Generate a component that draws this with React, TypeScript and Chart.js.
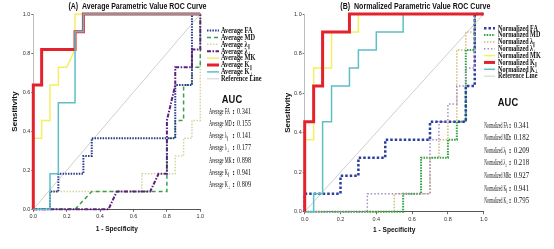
import React, { useEffect, useRef } from 'react';
import { Chart, registerables } from 'chart.js';

Chart.register(...registerables);

// ---------------- Data ----------------
const TICKS = [0, 0.2, 0.4, 0.6, 0.8, 1.0];
const REF_X = [0, 1];
const REF_Y = [0, 1];

// Panel A: Average parametric values (ROC vertices: 1 - specificity, sensitivity)
const A_FA_X = [0, 0.1, 0.1, 0.15, 0.15, 0.3, 0.3, 0.35, 0.35, 0.85, 0.85, 0.95, 0.95, 1];
const A_FA_Y = [0, 0, 0.091, 0.091, 0.182, 0.182, 0.273, 0.273, 0.364, 0.364, 0.636, 0.636, 1, 1];
const A_MD_X = [0, 0.25, 0.35, 0.8, 0.8, 0.85, 0.85, 0.9, 0.9, 0.95, 0.95, 1, 1];
const A_MD_Y = [0, 0, 0.091, 0.091, 0.364, 0.364, 0.455, 0.455, 0.636, 0.636, 0.727, 0.727, 1];
const A_LP_X = [0, 0.1, 0.1, 0.65, 0.65, 0.85, 0.85, 0.9, 0.9, 0.95, 0.95, 1, 1];
const A_LP_Y = [0, 0, 0.091, 0.091, 0.182, 0.182, 0.273, 0.273, 0.364, 0.364, 0.455, 0.455, 1];
const A_LT_X = [0, 0.45, 0.5, 0.7, 0.75, 0.8, 0.8, 0.85, 0.85, 0.95, 0.95, 1, 1];
const A_LT_Y = [0, 0, 0.091, 0.091, 0.182, 0.182, 0.455, 0.636, 0.727, 0.727, 0.818, 0.818, 1];
const A_MK_X = [0, 0, 0.05, 0.05, 0.1, 0.1, 0.15, 0.15, 0.2, 0.25, 0.25, 1];
const A_MK_Y = [0, 0.364, 0.364, 0.455, 0.455, 0.636, 0.636, 0.727, 0.727, 0.818, 1, 1];
const A_KP_X = [0, 0, 0.05, 0.05, 0.25, 0.25, 0.3, 0.3, 1];
const A_KP_Y = [0, 0.636, 0.636, 0.818, 0.818, 0.909, 0.909, 1, 1];
const A_KT_X = [0, 0.1, 0.1, 0.15, 0.15, 0.25, 0.25, 0.3, 0.3, 1];
const A_KT_Y = [0, 0, 0.182, 0.182, 0.545, 0.545, 0.909, 0.909, 1, 1];
const A_LABELS = ['Average FA', 'Average MD', 'Average λ∥', 'Average λ⊥', 'Average MK', 'Average K∥', 'Average K⊥'];
const A_AUC = [0.341, 0.155, 0.141, 0.177, 0.898, 0.941, 0.809];

// Panel B: Normalized parametric values
const B_FA_X = [0, 0, 0.2, 0.2, 0.3, 0.3, 0.45, 0.45, 0.7, 0.7, 0.9, 0.9, 0.95, 0.95, 1];
const B_FA_Y = [0, 0.091, 0.091, 0.182, 0.182, 0.273, 0.273, 0.364, 0.364, 0.455, 0.455, 0.636, 0.636, 1, 1];
const B_MD_X = [0, 0.55, 0.55, 0.65, 0.65, 0.8, 0.8, 0.85, 0.85, 0.9, 0.9, 0.95, 0.95, 1];
const B_MD_Y = [0, 0, 0.091, 0.091, 0.273, 0.273, 0.364, 0.364, 0.455, 0.455, 0.818, 0.818, 1, 1];
const B_LP_X = [0, 0.5, 0.5, 0.7, 0.7, 0.75, 0.75, 0.8, 0.8, 0.85, 0.85, 0.9, 0.9, 0.95, 0.95, 1];
const B_LP_Y = [0, 0, 0.091, 0.091, 0.273, 0.273, 0.364, 0.364, 0.455, 0.455, 0.818, 0.818, 0.909, 0.909, 1, 1];
const B_LT_X = [0, 0.35, 0.35, 0.7, 0.7, 0.75, 0.75, 0.8, 0.8, 0.85, 0.85, 0.9, 0.9, 0.95, 0.95, 1];
const B_LT_Y = [0, 0, 0.091, 0.091, 0.364, 0.364, 0.455, 0.455, 0.545, 0.545, 0.636, 0.636, 0.727, 0.727, 1, 1];
const B_MK_X = [0, 0, 0.05, 0.05, 0.15, 0.15, 0.3, 0.3, 1];
const B_MK_Y = [0, 0.364, 0.364, 0.727, 0.727, 0.909, 0.909, 1, 1];
const B_KP_X = [0, 0, 0.05, 0.05, 0.1, 0.1, 0.25, 0.25, 1];
const B_KP_Y = [0, 0.455, 0.455, 0.636, 0.636, 0.909, 0.909, 1, 1];
const B_KT_X = [0, 0.05, 0.05, 0.1, 0.1, 0.15, 0.15, 0.25, 0.25, 0.3, 0.3, 0.4, 0.4, 0.55, 0.55, 1];
const B_KT_Y = [0, 0, 0.091, 0.091, 0.455, 0.455, 0.636, 0.636, 0.727, 0.727, 0.818, 0.818, 0.909, 0.909, 1, 1];
const B_LABELS = ['Normalized FA', 'Normalized MD', 'Normalized λ∥', 'Normalized λ⊥', 'Normalized MK', 'Normalized K∥', 'Normalized K⊥'];
const B_AUC = [0.341, 0.182, 0.209, 0.218, 0.927, 0.941, 0.795];

const REF_LABEL = 'Reference Line';

// ---------------- Styles ----------------
type Style = { color: string; width: number; dash: number[]; order: number };
const A_STYLES: Style[] = [
  { color: '#2d3a8c', width: 2, dash: [1.5, 1.2], order: 5 },
  { color: '#3c9e4c', width: 1.5, dash: [4, 3], order: 6 },
  { color: '#d4d4a0', width: 1.5, dash: [1.5, 1.5], order: 7 },
  { color: '#5b1f7e', width: 2, dash: [4, 1.5, 1.5, 1.5], order: 4 },
  { color: '#f4ef62', width: 1.5, dash: [], order: 3 },
  { color: '#e3222b', width: 3, dash: [], order: 2 },
  { color: '#5ec0c6', width: 1.5, dash: [], order: 1 },
];
const B_STYLES: Style[] = [
  { color: '#2b3f9e', width: 2.5, dash: [2.5, 2], order: 5 },
  { color: '#2fa33f', width: 2, dash: [1.5, 1.2], order: 6 },
  { color: '#d2ba7c', width: 1.5, dash: [1.5, 1.5], order: 7 },
  { color: '#a58ac6', width: 1.5, dash: [1.5, 2], order: 4 },
  { color: '#f4ef62', width: 1.5, dash: [], order: 3 },
  { color: '#e3222b', width: 3, dash: [], order: 1 },
  { color: '#5ec0c6', width: 1.5, dash: [], order: 2 },
];
const REF_STYLE: Style = { color: '#cfcfcf', width: 1, dash: [], order: 9 };

const W = 277;
const H = 249;
const SANS = '"Liberation Sans", Arial, sans-serif';
const SERIF = '"Liberation Serif", "Times New Roman", serif';

type Layout = {
  title: string; titleCx: number; titleW: number;
  l: number; r: number; t: number; b: number;
  yTitleX: number; xTitleY: number;
  legX0: number; legX1: number; legTextX: number; legY0: number; legDy: number; legSx: number;
  aucHeadX: number; aucHeadY: number;
  aucLabelX: number; aucLabelSx: number; aucColonX: number; aucValX: number; aucValSx: number; aucY0: number; aucDy: number;
};

type PanelDef = {
  xs: number[][]; ys: number[][]; labels: string[]; auc: number[]; styles: Style[]; layout: Layout;
};

const PANEL_A: PanelDef = {
  xs: [A_FA_X, A_MD_X, A_LP_X, A_LT_X, A_MK_X, A_KP_X, A_KT_X],
  ys: [A_FA_Y, A_MD_Y, A_LP_Y, A_LT_Y, A_MK_Y, A_KP_Y, A_KT_Y],
  labels: A_LABELS, auc: A_AUC, styles: A_STYLES,
  layout: {
    title: '(A)  Average Parametric Value ROC Curve', titleCx: 137.5, titleW: 138,
    l: 33.3, r: 200.3, t: 14, b: 209.3,
    yTitleX: 15, xTitleY: 228.5,
    legX0: 207, legX1: 219, legTextX: 221, legY0: 30.5, legDy: 6.9, legSx: 0.7,
    aucHeadX: 232, aucHeadY: 100,
    aucLabelX: 209, aucLabelSx: 0.55, aucColonX: 233.5, aucValX: 237, aucValSx: 0.78, aucY0: 111.5, aucDy: 12.3,
  },
};

const PANEL_B: PanelDef = {
  xs: [B_FA_X, B_MD_X, B_LP_X, B_LT_X, B_MK_X, B_KP_X, B_KT_X],
  ys: [B_FA_Y, B_MD_Y, B_LP_Y, B_LT_Y, B_MK_Y, B_KP_Y, B_KT_Y],
  labels: B_LABELS, auc: B_AUC, styles: B_STYLES,
  layout: {
    title: '(B)  Normalized Parametric Value ROC Curve', titleCx: 138.3, titleW: 150,
    l: 27.7, r: 206.7, t: 14, b: 211.7,
    yTitleX: 11, xTitleY: 230,
    legX0: 207, legX1: 218, legTextX: 221, legY0: 28.2, legDy: 6.85, legSx: 0.68,
    aucHeadX: 231, aucHeadY: 103.3,
    aucLabelX: 207.3, aucLabelSx: 0.48, aucColonX: 233, aucValX: 236.7, aucValSx: 0.86, aucY0: 125.7, aucDy: 12.55,
  },
};

// ---------------- Text helpers ----------------
function drawRich(
  ctx: CanvasRenderingContext2D, text: string, x: number, y: number,
  o: { size: number; weight?: string; style?: string; family: string; sx: number; align?: string; color?: string }
) {
  const f = (s: number) => `${o.style || 'normal'} ${o.weight || 'normal'} ${s}px ${o.family}`;
  const m = /^(.*?)([∥⊥])$/.exec(text);
  const base = m ? m[1] : text;
  const sub = m ? m[2] : '';
  ctx.save();
  ctx.font = f(o.size);
  const wBase = ctx.measureText(base).width;
  let wSub = 0;
  if (sub) {
    ctx.font = f(o.size * 0.6);
    wSub = ctx.measureText(sub).width + 0.5;
  }
  const total = (wBase + wSub) * o.sx;
  const x0 = o.align === 'center' ? x - total / 2 : o.align === 'right' ? x - total : x;
  ctx.translate(x0, y);
  ctx.scale(o.sx, 1);
  ctx.fillStyle = o.color || '#111';
  ctx.textBaseline = 'middle';
  ctx.textAlign = 'left';
  ctx.font = f(o.size);
  ctx.fillText(base, 0, 0);
  if (sub) {
    ctx.font = f(o.size * 0.6);
    ctx.fillText(sub, wBase + 0.5, o.size * 0.28);
  }
  ctx.restore();
}

function drawFit(ctx: CanvasRenderingContext2D, text: string, cx: number, y: number, font: string, targetW: number) {
  ctx.save();
  ctx.font = font;
  const w = ctx.measureText(text).width;
  const sx = targetW / w;
  ctx.translate(cx - targetW / 2, y);
  ctx.scale(sx, 1);
  ctx.fillStyle = '#111';
  ctx.textBaseline = 'middle';
  ctx.textAlign = 'left';
  ctx.fillText(text, 0, 0);
  ctx.restore();
}

function makeTextPlugin(p: PanelDef) {
  const L = p.layout;
  return {
    id: 'panelText',
    afterDraw(chart: any) {
      const ctx: CanvasRenderingContext2D = chart.ctx;
      const area = chart.chartArea;
      // title
      drawFit(ctx, L.title, L.titleCx, 7, `bold 9px ${SANS}`, L.titleW);
      // axis titles
      ctx.save();
      ctx.translate(L.yTitleX, (area.top + area.bottom) / 2);
      ctx.rotate(-Math.PI / 2);
      ctx.font = `bold 8px ${SANS}`;
      ctx.fillStyle = '#111';
      ctx.textAlign = 'center';
      ctx.textBaseline = 'middle';
      ctx.fillText('Sensitivity', 0, 0);
      ctx.restore();
      drawRich(ctx, '1 - Specificity', (area.left + area.right) / 2, L.xTitleY,
        { size: 8, weight: 'bold', family: SANS, sx: 0.82, align: 'center' });
      // legend
      const ds = chart.data.datasets;
      ds.forEach((d: any, i: number) => {
        const y = L.legY0 + i * L.legDy;
        ctx.save();
        ctx.strokeStyle = d.borderColor;
        ctx.lineWidth = d.borderWidth;
        ctx.setLineDash(d.borderDash || []);
        ctx.beginPath();
        ctx.moveTo(L.legX0, y);
        ctx.lineTo(L.legX1, y);
        ctx.stroke();
        ctx.restore();
        drawRich(ctx, d.label, L.legTextX, y, { size: 9, weight: 'bold', family: SERIF, sx: L.legSx });
      });
      // AUC table
      drawRich(ctx, 'AUC', L.aucHeadX, L.aucHeadY, { size: 11, weight: 'bold', family: SANS, sx: 0.85, align: 'center' });
      p.labels.forEach((lab, i) => {
        const y = L.aucY0 + i * L.aucDy;
        drawRich(ctx, lab, L.aucLabelX, y, { size: 8, family: SERIF, sx: L.aucLabelSx });
        drawRich(ctx, ':', L.aucColonX, y, { size: 8, weight: 'bold', family: SERIF, sx: 1, align: 'center' });
        drawRich(ctx, p.auc[i].toFixed(3), L.aucValX, y, { size: 8, family: SERIF, sx: L.aucValSx });
      });
    },
  };
}

function buildConfig(p: PanelDef): any {
  const L = p.layout;
  const mk = (xs: number[], ys: number[], label: string, s: Style) => ({
    label,
    data: xs.map((x, k) => ({ x, y: ys[k] })),
    borderColor: s.color,
    backgroundColor: s.color,
    borderWidth: s.width,
    borderDash: s.dash,
    borderCapStyle: 'butt',
    borderJoinStyle: 'miter',
    order: s.order,
    pointRadius: 0,
    showLine: true,
    fill: false,
    tension: 0,
    clip: false,
  });
  const datasets = p.xs.map((xs, i) => mk(xs, p.ys[i], p.labels[i], p.styles[i]));
  datasets.push(mk(REF_X, REF_Y, REF_LABEL, REF_STYLE));
  const tickFont = { family: SANS, size: 5.5 };
  return {
    type: 'scatter',
    data: { datasets },
    options: {
      responsive: false,
      animation: false,
      devicePixelRatio: 1,
      events: [],
      layout: { padding: { left: 0, top: L.t, right: W - L.r, bottom: 0 } },
      plugins: { legend: { display: false }, tooltip: { enabled: false }, title: { display: false } },
      scales: {
        x: {
          type: 'linear', min: 0, max: 1,
          afterBuildTicks: (s: any) => { s.ticks = TICKS.map((v) => ({ value: v })); },
          afterFit: (s: any) => { s.height = H - L.b; },
          ticks: { font: tickFont, color: '#333', padding: 1.5, maxRotation: 0, autoSkip: false, callback: (v: any) => Number(v).toFixed(1) },
          grid: { drawOnChartArea: false, drawTicks: true, tickLength: 2.5, color: '#444', lineWidth: 0.8 },
          border: { display: true, color: '#555', width: 1 },
        },
        y: {
          type: 'linear', min: 0, max: 1,
          afterBuildTicks: (s: any) => { s.ticks = TICKS.map((v) => ({ value: v })); },
          afterFit: (s: any) => { s.width = L.l; },
          ticks: { font: tickFont, color: '#333', padding: 1, autoSkip: false, callback: (v: any) => Number(v).toFixed(1) },
          grid: { drawOnChartArea: false, drawTicks: true, tickLength: 2, color: '#444', lineWidth: 0.8 },
          border: { display: true, color: '#bdbdbd', width: 1 },
        },
      },
    },
    plugins: [makeTextPlugin(p)],
  };
}

function RocPanel({ panel }: { panel: PanelDef }) {
  const ref = useRef<HTMLCanvasElement | null>(null);
  useEffect(() => {
    if (!ref.current) return;
    const chart = new Chart(ref.current, buildConfig(panel));
    return () => chart.destroy();
  }, [panel]);
  return <canvas ref={ref} width={W} height={H} style={{ display: 'block', width: W, height: H }} />;
}

export default function App() {
  return (
    <div style={{ display: 'flex', width: W * 2, height: H, background: '#fff' }}>
      <style>{'body{margin:0;background:#fff;}'}</style>
      <RocPanel panel={PANEL_A} />
      <RocPanel panel={PANEL_B} />
    </div>
  );
}
